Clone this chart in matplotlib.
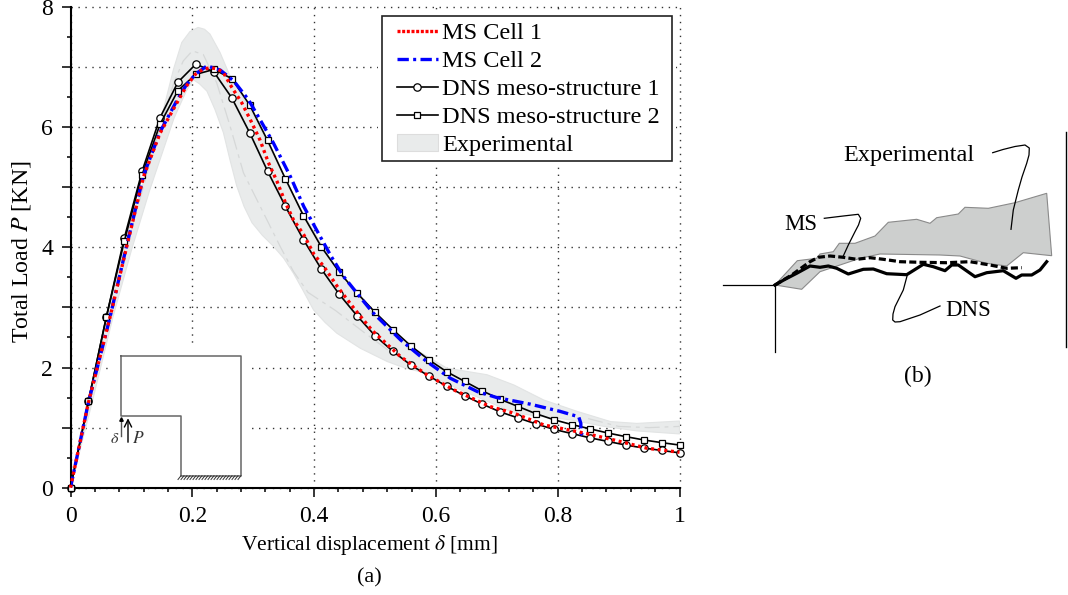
import matplotlib
matplotlib.use("Agg")
import matplotlib.pyplot as plt
import numpy as np
from matplotlib.lines import Line2D
from matplotlib.patches import Patch, Polygon, Rectangle

plt.rcParams['font.family'] = ['Liberation Serif', 'DejaVu Serif']
plt.rcParams['mathtext.fontset'] = 'stix'

# DNS curves, 35 samples over the displacement range
dns_x = np.linspace(0, 1, 35)
dns1_y = [0, 1.44, 2.84, 4.15, 5.27, 6.16, 6.75, 7.05, 6.92, 6.49, 5.91, 5.27, 4.68, 4.13, 3.64, 3.22, 2.86, 2.53,
          2.27, 2.04, 1.86, 1.69, 1.53, 1.39, 1.26, 1.16, 1.06, 0.97, 0.90, 0.83, 0.77, 0.71, 0.66, 0.62, 0.58]
dns2_y = [0, 1.44, 2.84, 4.10, 5.21, 6.05, 6.61, 6.88, 6.96, 6.81, 6.37, 5.78, 5.14, 4.53, 4.01, 3.59, 3.24, 2.92,
          2.63, 2.36, 2.13, 1.93, 1.77, 1.61, 1.47, 1.35, 1.23, 1.13, 1.05, 0.98, 0.91, 0.85, 0.795, 0.75, 0.71]

# MS curves
ms1_x = [0, 0.029, 0.064, 0.092, 0.120, 0.147, 0.175, 0.190, 0.205, 0.217, 0.229, 0.241, 0.251, 0.265, 0.281, 0.295,
         0.311, 0.325, 0.339, 0.353, 0.366, 0.383, 0.400, 0.416, 0.438, 0.465, 0.495, 0.542, 0.585, 0.629, 0.689,
         0.728, 0.777, 0.843, 0.892, 0.947, 1.0]
ms1_y = [0, 1.40, 2.80, 4.00, 5.18, 5.90, 6.41, 6.68, 6.88, 6.96, 6.99, 6.97, 6.91, 6.66, 6.41, 6.13,
         5.79, 5.41, 5.10, 4.74, 4.46, 4.21, 3.88, 3.68, 3.35, 2.99, 2.62, 2.18, 1.88, 1.63, 1.35,
         1.24, 1.045, 0.91, 0.795, 0.656, 0.59]
ms2_x = [0, 0.029, 0.064, 0.092, 0.120, 0.147, 0.175, 0.190, 0.205, 0.224, 0.246, 0.268, 0.292, 0.311, 0.333, 0.361,
         0.383, 0.410, 0.428, 0.448, 0.479, 0.495, 0.508, 0.542, 0.585, 0.624, 0.668, 0.70, 0.755, 0.804, 0.8345,
         0.838, 0.838, 0.8425]
ms2_y = [0, 1.40, 2.80, 4.02, 5.20, 5.92, 6.45, 6.70, 6.88, 7.02, 6.95, 6.77, 6.46, 6.13, 5.74, 5.18,
         4.68, 4.18, 3.85, 3.52, 3.13, 2.93, 2.80, 2.46, 2.10, 1.82, 1.60, 1.50, 1.39, 1.27, 1.18,
         1.07, 0.907, 0.86]

# experimental envelope
band_up_x = [0, 0.03, 0.06, 0.09, 0.12, 0.1525, 0.169, 0.1827, 0.196, 0.2095, 0.22, 0.229, 0.2457, 0.262,
             0.28, 0.30, 0.34, 0.38, 0.43, 0.50, 0.55, 0.618, 0.684, 0.728, 0.777, 0.832, 0.887, 0.93, 1.0]
band_up_y = [0, 1.44, 2.84, 4.10, 5.10, 6.29, 6.96, 7.41, 7.59, 7.66, 7.63, 7.55, 7.24, 6.85,
             6.55, 6.20, 5.40, 4.60, 3.75, 2.85, 2.40, 1.99, 1.88, 1.71, 1.46, 1.27, 1.10, 1.07, 1.11]
band_lo_x = [1.0, 0.93, 0.876, 0.82, 0.73, 0.686, 0.629, 0.585, 0.547, 0.52, 0.492, 0.476, 0.4375, 0.418, 0.399, 0.382,
             0.366, 0.35, 0.333, 0.315, 0.298, 0.285, 0.273, 0.262, 0.251, 0.237, 0.224, 0.212, 0.2018, 0.19, 0.17,
             0.13, 0.10, 0.07, 0.035, 0]
band_lo_y = [0.895, 0.945, 1.02, 1.13, 1.24, 1.43, 1.68, 1.90, 2.00, 2.10, 2.24, 2.32, 2.57, 2.75, 2.96, 3.28,
             3.57, 3.82, 4.02, 4.20, 4.41, 4.68, 5.02, 5.45, 5.91, 6.30, 6.60, 6.72, 6.79, 6.60, 6.15,
             4.95, 3.95, 2.85, 1.40, 0]
exp_a_x = [0.10, 0.15, 0.17, 0.185, 0.20, 0.218, 0.24, 0.262, 0.284, 0.317, 0.344, 0.366, 0.39, 0.435, 0.48, 0.52, 0.58]
exp_a_y = [4.3, 6.1, 6.75, 7.10, 7.27, 7.21, 6.74, 6.02, 5.24, 4.57, 4.02, 3.60, 3.25, 2.95, 2.60, 2.30, 1.95]
exp_b_x = [0.85, 0.90, 0.95, 1.0]
exp_b_y = [1.15, 1.02, 1.0, 1.02]

x_ticks = [0, 0.2, 0.4, 0.6, 0.8, 1]
x_tick_labels = ['0', '0.2', '0.4', '0.6', '0.8', '1']
y_ticks = [0, 1, 2, 3, 4, 5, 6, 7, 8]
y_tick_labels = ['0', '', '2', '', '4', '', '6', '', '8']

# inset sketch, figure pixels
inset_x = [120.7, 241, 241, 181, 181, 120.7, 120.7]
inset_y = [355.7, 355.7, 475.7, 475.7, 415.7, 415.7, 355.7]

# panel (b), figure pixels
crack_exp_x = [775, 797.3, 816.7, 820, 833.3, 839.3, 855, 875, 888.3, 916.7, 930, 936.7, 958.3, 965, 988.3, 1015, 1046.7,
               1051.7, 1023.3, 1006.7, 986.7, 960, 940, 880, 860, 840, 820, 801.7, 775]
crack_exp_y = [285, 260.7, 258.3, 254, 251.7, 243.3, 243.3, 236, 222.3, 219.3, 223.3, 217.7, 214, 207.3, 208.3, 202.7, 193.3,
               255.7, 252.7, 266, 263.3, 256, 255, 254, 258.3, 265, 271.7, 289.3, 285]
crack_ms_x = [775, 791.7, 810, 818.3, 830, 843.3, 856.7, 870, 883.3, 900, 920, 946.7, 970, 990, 1006.7, 1021.7]
crack_ms_y = [285, 275, 261.7, 257.3, 256, 257.3, 259.3, 257.7, 259.3, 261.7, 262.3, 262.7, 261.7, 265, 268.3, 267.7]
crack_dns_x = [775, 785, 796.7, 810, 820, 828.3, 836.7, 848.3, 863.3, 873.3, 886.7, 906.7, 923.3, 933.3, 945, 951.7,
               958.3, 975, 986.7, 1003.3, 1016, 1021.7, 1031.7, 1040, 1046.7]
crack_dns_y = [285, 279.3, 273.3, 266, 267.3, 266, 268.3, 274, 269.3, 269, 273.7, 274.7, 264.3, 266.7, 270.7, 265,
               265, 276.7, 272.7, 270.7, 278.3, 275, 275, 270, 261.7]
lead_exp_x = [992.7, 1003, 1015, 1025, 1029.3, 1029, 1026.7, 1022, 1018.3, 1013.3, 1011]
lead_exp_y = [152.7, 149.5, 146.5, 145, 148, 155, 163.3, 177, 190, 210, 229.3]
lead_ms_x = [824.3, 843.3, 858.3, 860.7, 858.5, 855, 848.3, 842.7]
lead_ms_y = [218.3, 216, 214.3, 218.3, 225, 231.7, 245, 257.3]
lead_dns_x = [940, 920, 900, 895, 892.7, 893, 895, 903.3, 907.3]
lead_dns_y = [306, 315, 321.7, 322, 320, 314, 306.7, 290, 275]

fig = plt.figure(figsize=(10.68, 5.95), dpi=100)
W, H = 1068.0, 595.0
ax = fig.add_axes([70.5 / W, 1 - 487.7 / H, 609 / W, 480.7 / H])

ax.fill(band_up_x + band_lo_x, band_up_y + band_lo_y, facecolor='#e9ebeb', edgecolor='#e2e4e4', lw=0.8, zorder=2)
ax.plot(exp_a_x, exp_a_y, color='#d6d8d8', lw=0.9, ls=(0, (12, 4, 3, 4)), zorder=2.1)
ax.plot(exp_b_x, exp_b_y, color='#d6d8d8', lw=0.9, ls=(0, (12, 4, 3, 4)), zorder=2.1)

ax.plot(dns_x, dns1_y, color='black', lw=1.2, marker='o', ms=5.3, mfc='white', mec='black', mew=0.9,
        clip_on=False, zorder=3)
ax.plot(dns_x, dns2_y, color='black', lw=1.2, marker='s', ms=4.4, mfc='white', mec='black', mew=0.9,
        clip_on=False, zorder=3)
ax.plot(ms2_x, ms2_y, color='#0000ff', lw=2.4, ls=(0, (3.4, 1.3, 0.9, 1.3)), zorder=4)
ax.plot(ms1_x, ms1_y, color='#ff0000', lw=2.4, ls=(0, (0.9, 1.1)), zorder=5, clip_on=False)

ax.set_xlim(0, 1)
ax.set_ylim(0, 8)
ax.set_xticks(x_ticks)
ax.set_xticklabels(x_tick_labels)
ax.set_xticks(np.arange(0, 1.001, 0.04), minor=True)
ax.set_yticks(y_ticks)
ax.set_yticklabels(y_tick_labels)
ax.tick_params(axis='x', which='major', length=6.5, width=1.1, labelsize=17, pad=7)
ax.tick_params(axis='y', which='major', length=6.5, width=1.1, labelsize=17, pad=6)
ax.set_yticks(np.arange(0, 8.01, 0.5), minor=True)
ax.tick_params(which='minor', length=3, width=1.1)
ax.spines['top'].set_visible(False)
ax.spines['right'].set_visible(False)
ax.spines['left'].set_linewidth(1.5)
ax.spines['bottom'].set_linewidth(1.5)
ax.grid(True, which='major', color='#333333', lw=1.0, ls=(0, (1, 4)), clip_on=False)
ax.set_axisbelow(True)
ax.set_xlabel(r'Vertical displacement $\delta$ [mm]', fontsize=15.5, va='center')
ax.xaxis.set_label_coords((369 - 70.5) / 609, -(545 - 487.7) / 480.7)
ax.set_ylabel(r'Total Load $P$ [KN]', fontsize=17.2, va='center')
ax.yaxis.set_label_coords((22 - 70.5) / 609, (487.7 - 252) / 480.7)

# overlay in figure pixels for the sketches and the legend
ov = fig.add_axes([0, 0, 1, 1])
ov.set_xlim(0, W)
ov.set_ylim(H, 0)
ov.axis('off')
ov.patch.set_alpha(0)

ov.add_patch(Rectangle((112, 347), 135, 138, facecolor='white', edgecolor='none'))
ov.add_patch(Rectangle((378, 11), 298, 154, facecolor='white', edgecolor='none'))
ov.add_patch(Rectangle((382.3, 15.7), 290, 145.3, facecolor='white', edgecolor='#222222', lw=1.2))

ov.plot(inset_x, inset_y, color='#666666', lw=1.1)
for hx in np.arange(181, 241.1, 3):
    ov.plot([hx - 3, hx], [479.5, 475.7], color='#333333', lw=0.7)
ov.annotate('', xy=(128, 415.5), xytext=(128, 445), arrowprops=dict(arrowstyle='->', color='black', lw=1.0, mutation_scale=13))
ov.plot([120.7, 120.7], [418, 436], color='#555555', lw=1.0)
ov.plot([120.7], [419], marker='^', ms=2.5, color='black')
ov.text(114.5, 439, r'$\delta$', fontsize=11.5, ha='center', va='center', color='#333333')
ov.text(138, 439, r'$P$', fontsize=12.5, ha='center', va='center', color='#333333')

ov.text(369, 578, '(a)', fontsize=16, ha='center', va='center')

# panel (b)
ov.add_patch(Polygon(np.column_stack([crack_exp_x, crack_exp_y]), closed=True, facecolor='#cdcfce', edgecolor='#8a8a8a', lw=0.8))
ov.plot(crack_dns_x, crack_dns_y, color='black', lw=2.3)
ov.plot(crack_ms_x, crack_ms_y, color='black', lw=2.3, ls=(0, (2.2, 1.0)))
ov.plot([723.3, 775, 775], [285, 285, 351.7], color='black', lw=0.9)
ov.plot([1065.7, 1065.7], [131.7, 346.7], color='black', lw=1.0)
ov.plot(lead_exp_x, lead_exp_y, color='black', lw=0.9)
ov.plot(lead_ms_x, lead_ms_y, color='black', lw=0.9)
ov.plot(lead_dns_x, lead_dns_y, color='black', lw=0.9)
ov.text(909, 155, 'Experimental', fontsize=17.5, ha='center', va='center')
ov.text(801, 225, 'MS', fontsize=16.5, ha='center', va='center')
ov.text(968, 311, 'DNS', fontsize=16.5, ha='center', va='center')
ov.text(918, 376, '(b)', fontsize=17, ha='center', va='center')

handles = [Line2D([], [], color='#ff0000', lw=2.4, ls=(0, (0.9, 0.5))),
           Line2D([], [], color='#0000ff', lw=2.4, ls=(0, (3.4, 1.3, 0.9, 1.3))),
           Line2D([], [], color='black', lw=1.2, marker='o', ms=5.3, mfc='white', mew=0.9),
           Line2D([], [], color='black', lw=1.2, marker='s', ms=4.4, mfc='white', mew=0.9),
           Patch(facecolor='#e9ebeb', edgecolor='#dddddd', lw=0.8)]
labels = ['MS Cell 1', 'MS Cell 2', 'DNS meso-structure 1', 'DNS meso-structure 2', 'Experimental']
leg = ov.legend(handles, labels, loc='upper left', bbox_to_anchor=(396.7, 22), bbox_transform=ov.transData,
                fontsize=17.5, frameon=False, borderaxespad=0, borderpad=0,
                handlelength=1.7, handletextpad=0.18, labelspacing=0.25, numpoints=1)

fig.savefig('out.png', dpi=100)
